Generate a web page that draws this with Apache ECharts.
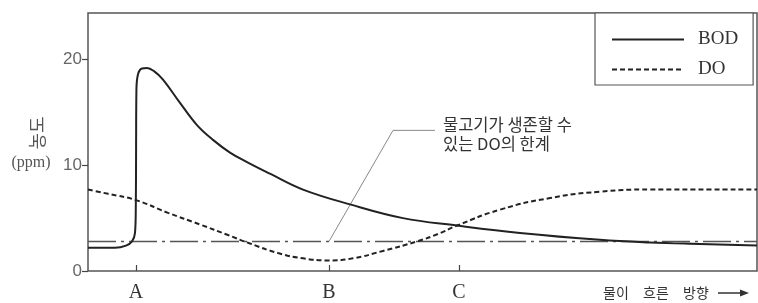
<!DOCTYPE html>
<html lang="ko">
<head>
    <meta charset="UTF-8">
    <title>BOD / DO</title>
    <script src="https://cdn.jsdelivr.net/npm/echarts/dist/echarts.min.js"></script>
    <style>
        html, body { margin: 0; padding: 0; background: #fff; }
        #chart { width: 758px; height: 303px; }
    </style>
</head>
<body>
    <div id="chart"></div>

    <script>
        // distance along the river (arbitrary units), concentration in ppm
        const bodPoints = [
            [0, 2.2], [27, 2.2], [38, 2.4], [44, 2.8], [47, 3.6], [47.8, 6], [48.1, 12],
            [48.4, 17], [50, 18.6], [54, 19.15], [59, 19.2], [66, 18.9], [75, 18.1],
            [92, 15.9], [109, 13.8], [125, 12.4], [142, 11.2], [159, 10.3], [182, 9.2],
            [215, 7.7], [262, 6.3], [315, 5.0], [369, 4.3], [432, 3.6], [512, 2.95],
            [562, 2.7], [612, 2.55], [669, 2.4]
        ];
        const doPoints = [
            [0, 7.7], [20, 7.3], [48, 6.7], [80, 5.5], [112, 4.4], [140, 3.4], [162, 2.6],
            [190, 1.7], [215, 1.2], [241, 1.0], [265, 1.2], [295, 1.9], [329, 2.8],
            [350, 3.5], [369, 4.3], [412, 5.8], [462, 6.9], [512, 7.5], [562, 7.7], [669, 7.7]
        ];
        const fishLimit = 2.8;
        const leaderPoints = [[241, 2.8], [305, 13.3], [347, 13.3]];
        const tickValues = [48, 241, 371];
        const tickLabels = ['A', 'B', 'C'];
        const yTicks = [0, 10, 20];
        const flowWords = ['물이', '흐른', '방향'];

        const chart = echarts.init(document.getElementById('chart'));

        const flowGraphics = flowWords.map((w, i) => ({
            type: 'text', x: 603 + i * 40, y: 293,
            style: {
                text: w, font: '14px "Noto Sans CJK KR"', fill: '#333', verticalAlign: 'middle'
            }
        }));
        flowGraphics.push(
            { type: 'line', shape: { x1: 718, y1: 293, x2: 742, y2: 293 }, style: { stroke: '#333', lineWidth: 1.5 } },
            { type: 'polygon', shape: { points: [[749, 293], [740, 289.5], [740, 296.5]] }, style: { fill: '#333' } }
        );

        chart.setOption({
            animation: false,
            grid: {
                left: 88, top: 13, right: 1, bottom: 29,
                show: true, borderColor: '#555', borderWidth: 1.5
            },
            legend: {
                data: ['BOD', 'DO'],
                orient: 'vertical',
                left: 595, top: 13,
                padding: [17, 15, 6, 16],
                itemWidth: 72, itemHeight: 14, itemGap: 11,
                borderColor: '#555', borderWidth: 1.2,
                backgroundColor: '#fff',
                itemStyle: { opacity: 0 },
                textStyle: {
                    fontFamily: 'Liberation Serif', fontSize: 19, color: '#333',
                    padding: [0, 0, 0, 9]
                }
            },
            xAxis: {
                type: 'value', min: 0, max: 669,
                splitLine: { show: false },
                axisLine: { show: false },
                axisTick: {
                    inside: true, length: 6, customValues: tickValues,
                    lineStyle: { color: '#444', width: 1.2 }
                },
                axisLabel: {
                    customValues: tickValues,
                    formatter: v => tickLabels[tickValues.indexOf(v)] || '',
                    fontFamily: 'Liberation Serif', fontSize: 20, color: '#333', margin: 12
                }
            },
            yAxis: {
                type: 'value', min: 0, max: 24.4,
                splitLine: { show: false },
                axisLine: { show: false },
                axisTick: {
                    length: 6, customValues: yTicks,
                    lineStyle: { color: '#444', width: 1.2 }
                },
                axisLabel: {
                    customValues: yTicks,
                    fontFamily: 'Liberation Sans', fontSize: 17, color: '#666', margin: 6
                }
            },
            series: [
                {
                    name: 'BOD', type: 'line', data: bodPoints,
                    smooth: 0.4, symbol: 'none',
                    lineStyle: { color: '#222', width: 2 },
                    itemStyle: { color: '#222' }, z: 4
                },
                {
                    name: 'DO', type: 'line', data: doPoints,
                    smooth: 0.5, symbol: 'none',
                    lineStyle: { color: '#222', width: 2, type: [5, 3] },
                    itemStyle: { color: '#222' }, z: 4
                },
                {
                    name: 'limit', type: 'line', data: [[0, fishLimit], [669, fishLimit]],
                    symbol: 'none', silent: true,
                    lineStyle: { color: '#555', width: 1.5, type: [28, 5, 3, 5] }, z: 3
                },
                {
                    name: 'leader', type: 'line', data: leaderPoints,
                    symbol: 'none', silent: true,
                    lineStyle: { color: '#888', width: 1 }, z: 2
                }
            ],
            graphic: [
                {
                    type: 'text', x: 37, y: 133, rotation: Math.PI / 2,
                    style: {
                        text: '농도', font: '18px "Noto Sans CJK KR"', fill: '#555',
                        align: 'center', verticalAlign: 'middle'
                    }
                },
                {
                    type: 'text', x: 31, y: 163,
                    style: {
                        text: '(ppm)', font: '16px "Liberation Serif"', fill: '#555',
                        align: 'center', verticalAlign: 'middle'
                    }
                },
                {
                    type: 'text', x: 443, y: 115,
                    style: {
                        text: '물고기가 생존할 수\n있는 DO의 한계', font: '16.5px "Noto Sans CJK KR"',
                        fill: '#333', lineHeight: 19
                    }
                }
            ].concat(flowGraphics)
        });
    </script>
</body>
</html>
